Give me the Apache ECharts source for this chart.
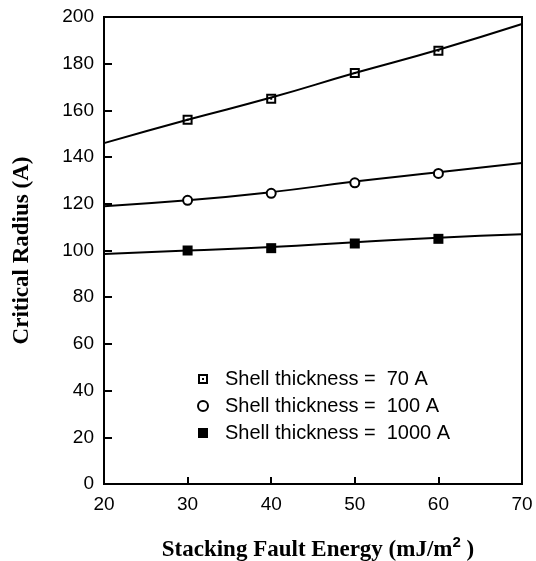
<!DOCTYPE html>
<html>
<head>
<meta charset="utf-8">
<script src="https://cdn.jsdelivr.net/npm/echarts@6/dist/echarts.min.js"></script>
<style>
  html, body { margin: 0; padding: 0; background: #fff; }
  #chart { width: 536px; height: 561px; }
</style>
</head>
<body>
<div id="chart"></div>
<script>
// measured points (stacking fault energy, mJ/m^2)
const sfe = [30, 40, 50, 60]
const shell70 = [156, 165, 176, 185.5]
const shell100 = [121.5, 124.5, 129, 133]
const shell1000 = [100, 101, 103, 105]

// fitted curves
const fitX = [20, 30, 40, 50, 60, 70]
const fit70 = [146, 156, 165.5, 176, 186, 197]
const fit100 = [119, 121.5, 125, 129.5, 133.5, 137.5]
const fit1000 = [98.5, 100, 101.5, 103.5, 105.5, 107]

const legendNames = [
  'Shell thickness =  70 A',
  'Shell thickness =  100 A',
  'Shell thickness =  1000 A',
]

// hollow square with a dot in the middle
const dotSquare = 'path://M0,0 L10,0 L10,10 L0,10 Z M2,2 L2,8 L8,8 L8,2 Z M4,4 L6,4 L6,6 L4,6 Z'

const pairs = (xs, ys) => xs.map((x, i) => [x, ys[i]])

const chart = echarts.init(document.getElementById('chart'))

function fitSeries(ys) {
  return {
    type: 'line',
    data: pairs(fitX, ys),
    showSymbol: false,
    smooth: true,
    silent: true,
    lineStyle: { color: '#000', width: 2 },
    z: 2,
  }
}

function pointSeries(name, ys, symbol, size, style) {
  return {
    name,
    type: 'scatter',
    data: pairs(sfe, ys),
    symbol,
    symbolSize: size,
    itemStyle: Object.assign({ opacity: 1 }, style),
    z: 5,
  }
}

chart.setOption({
  animation: false,
  textStyle: { fontFamily: 'Liberation Sans, Arial, sans-serif' },
  grid: {
    left: 104,
    right: 14,
    top: 17,
    bottom: 77,
    outerBoundsMode: 'none',
    show: true,
    borderColor: '#000',
    borderWidth: 2,
  },
  legend: {
    orient: 'vertical',
    left: 192,
    top: 364,
    itemGap: 7,
    itemWidth: 10,
    itemHeight: 10,
    textStyle: { color: '#000', fontSize: 20, fontFamily: 'Liberation Sans, Arial, sans-serif', padding: [0, 0, 0, 12] },
    data: legendNames,
  },
  xAxis: {
    type: 'value',
    min: 20,
    max: 70,
    interval: 10,
    name: 'Stacking Fault Energy (mJ/m{sup|2} )',
    nameLocation: 'middle',
    nameGap: 51,
    nameTextStyle: {
      color: '#000',
      fontFamily: 'Liberation Serif, Times New Roman, serif',
      fontWeight: 'bold',
      fontSize: 23,
      padding: [0, 0, 0, 10],
      rich: {
        sup: {
          fontFamily: 'Liberation Sans, Arial, sans-serif',
          fontWeight: 'bold',
          fontSize: 15,
          verticalAlign: 'top',
          padding: [0, 0, 16, 0],
        },
      },
    },
    axisLine: { lineStyle: { color: '#000', width: 2 } },
    axisTick: { inside: true, length: 7, lineStyle: { color: '#000', width: 2 } },
    axisLabel: { color: '#000', fontSize: 19, margin: 11 },
    splitLine: { show: false },
  },
  yAxis: {
    type: 'value',
    min: 0,
    max: 200,
    interval: 20,
    name: 'Critical Radius (A)',
    nameLocation: 'middle',
    nameGap: 70,
    nameTextStyle: {
      color: '#000',
      fontFamily: 'Liberation Serif, Times New Roman, serif',
      fontWeight: 'bold',
      fontSize: 23,
    },
    axisLine: { lineStyle: { color: '#000', width: 2 } },
    axisTick: { inside: true, length: 8, lineStyle: { color: '#000', width: 2 } },
    axisLabel: { color: '#000', fontSize: 19, margin: 10 },
    splitLine: { show: false },
  },
  series: [
    fitSeries(fit70),
    fitSeries(fit100),
    fitSeries(fit1000),
    pointSeries(legendNames[0], shell70, dotSquare, 10, { color: '#000' }),
    pointSeries(legendNames[1], shell100, 'emptyCircle', 9,
      { color: '#000', borderColor: '#000', borderWidth: 1.5 }),
    pointSeries(legendNames[2], shell1000, 'rect', 10, { color: '#000' }),
  ],
})
</script>
</body>
</html>
